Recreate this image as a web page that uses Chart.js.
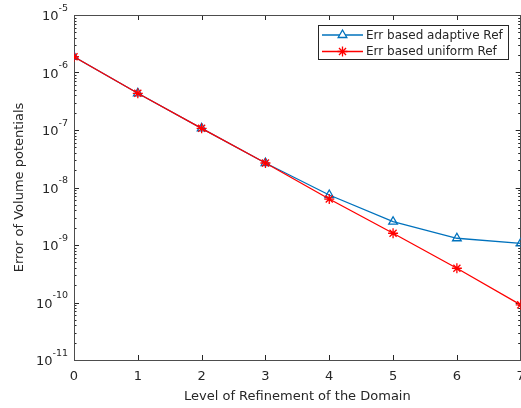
<!DOCTYPE html>
<html>
<head>
<meta charset="utf-8">
<script src="https://cdn.jsdelivr.net/npm/chart.js@4"></script>
<style>
  html, body { margin: 0; padding: 0; background: #fff; overflow: hidden; }
  #wrap { width: 521px; height: 408px; overflow: hidden; }
</style>
</head>
<body>
<div id="wrap"><canvas id="chart" width="527" height="408"></canvas></div>
<script>
// refinement levels and error values
const levels = [0, 1, 2, 3, 4, 5, 6, 7];
const adaptiveErr = [1.88e-6, 4.35e-7, 1.07e-7, 2.67e-8, 7.4e-9, 2.54e-9, 1.31e-9, 1.07e-9];
const uniformErr = [1.88e-6, 4.35e-7, 1.07e-7, 2.67e-8, 6.3e-9, 1.6e-9, 3.94e-10, 9.1e-11];
const yExps = [-11, -10, -9, -8, -7, -6, -5];
const seriesNames = ['Err based adaptive Ref', 'Err based uniform Ref'];

const BLUE = '#0072BD';
const RED = '#FF0000';
const INK = '#262626';
const FONT = "'DejaVu Sans', sans-serif";

const pts = (ys) => levels.map((l, i) => ({ x: l, y: ys[i] }));

// box, inward ticks (major + minor), 10^n labels, legend
const frame = {
  id: 'frame',
  beforeDatasetsDraw(chart) {
    const { ctx, chartArea: a, scales: { x, y } } = chart;
    ctx.save();
    ctx.strokeStyle = INK;
    ctx.lineWidth = 1;
    ctx.beginPath();
    const yv = [];
    for (let n = yExps[0]; n < yExps[yExps.length - 1]; n++) {
      for (let k = 1; k <= 9; k++) yv.push([k * Math.pow(10, n), k === 1]);
    }
    yv.push([Math.pow(10, yExps[yExps.length - 1]), true]);
    yv.forEach(([v, major]) => {
      const py = Math.round(y.getPixelForValue(v)) + 0.5;
      const len = major ? 5 : 2.5;
      ctx.moveTo(a.left, py); ctx.lineTo(a.left + len, py);
      ctx.moveTo(a.right, py); ctx.lineTo(a.right - len, py);
    });
    levels.forEach((l) => {
      const px = Math.round(x.getPixelForValue(l)) + 0.5;
      ctx.moveTo(px, a.bottom); ctx.lineTo(px, a.bottom - 5);
      ctx.moveTo(px, a.top); ctx.lineTo(px, a.top + 5);
    });
    ctx.stroke();
    ctx.strokeStyle = '#4d4d4d';
    ctx.strokeRect(Math.round(a.left) + 0.5, Math.round(a.top) + 0.5,
      Math.round(a.right - a.left) - 1, Math.round(a.bottom - a.top));

    // y labels: 10 with raised exponent
    ctx.fillStyle = INK;
    ctx.textBaseline = 'alphabetic';
    yExps.forEach((e) => {
      const py = y.getPixelForValue(Math.pow(10, e));
      ctx.font = '9.5px ' + FONT;
      const ex = String(e);
      const ew = ctx.measureText(ex).width;
      ctx.textAlign = 'left';
      ctx.fillText(ex, 68 - ew, py - 4.5);
      ctx.font = '13px ' + FONT;
      ctx.textAlign = 'right';
      ctx.fillText('10', 68 - ew, py + 5);
    });
    ctx.restore();
  },
  afterDraw(chart) {
    const { ctx } = chart;
    const bx = 318.5, by = 25.5, bw = 190, bh = 34;
    ctx.save();
    ctx.fillStyle = '#fff';
    ctx.fillRect(bx, by, bw, bh);
    ctx.strokeStyle = INK;
    ctx.lineWidth = 1;
    ctx.strokeRect(bx, by, bw, bh);
    chart.data.datasets.slice().sort((p, q) => p.legendIdx - q.legendIdx).forEach((ds, i) => {
      const yy = 35 + i * 16.5;
      ctx.strokeStyle = ds.borderColor;
      ctx.lineWidth = 1.3;
      ctx.beginPath();
      ctx.moveTo(322, yy); ctx.lineTo(363, yy);
      ctx.stroke();
      Chart.helpers.drawPoint(ctx, {
        pointStyle: ds.pointStyle, radius: ds.pointRadius, borderWidth: ds.pointBorderWidth
      }, 342.5, yy);
      ctx.fillStyle = INK;
      ctx.font = '12px ' + FONT;
      ctx.textBaseline = 'middle';
      ctx.fillText(seriesNames[ds.legendIdx], 366, yy + 0.5);
    });
    ctx.restore();
  }
};

new Chart(document.getElementById('chart'), {
  type: 'line',
  data: {
    datasets: [
      {
        label: seriesNames[1], legendIdx: 1, order: 0,
        data: pts(uniformErr),
        borderColor: RED, backgroundColor: RED,
        borderWidth: 1.3, pointStyle: 'star', pointRadius: 5, pointBorderWidth: 1.3,
        pointBorderColor: RED, tension: 0,
      },
      {
        label: seriesNames[0], legendIdx: 0, order: 1,
        data: pts(adaptiveErr),
        borderColor: BLUE, backgroundColor: 'rgba(0,0,0,0)',
        borderWidth: 1.3, pointStyle: 'triangle', pointRadius: 5, pointBorderWidth: 1.3,
        pointBorderColor: BLUE, pointBackgroundColor: 'rgba(0,0,0,0)', tension: 0,
      },
    ],
  },
  options: {
    responsive: false,
    animation: false,
    layout: { padding: { top: 15, right: 0, left: 0, bottom: 0 } },
    plugins: { legend: { display: false }, tooltip: { enabled: false } },
    scales: {
      x: {
        type: 'linear', min: 0, max: 7,
        ticks: { stepSize: 1, color: INK, font: { family: FONT, size: 13 }, padding: 1, maxRotation: 0 },
        grid: { display: false },
        border: { display: false },
        title: { display: true, text: 'Level of Refinement of the Domain', color: INK,
          font: { family: FONT, size: 13 }, padding: { top: 0, bottom: 4 } },
        afterFit(s) { s.height = 48; s.paddingLeft = 0; s.paddingRight = 0; },
      },
      y: {
        type: 'logarithmic', min: 1e-11, max: 1e-5,
        ticks: { display: false },
        grid: { display: false },
        border: { display: false },
        title: { display: true, text: 'Error of Volume potentials', color: INK,
          font: { family: FONT, size: 13 }, padding: { top: 12, bottom: 0 } },
        afterFit(s) { s.width = 74; s.paddingTop = 0; s.paddingBottom = 0; },
      },
    },
  },
  plugins: [frame],
});
</script>
</body>
</html>
